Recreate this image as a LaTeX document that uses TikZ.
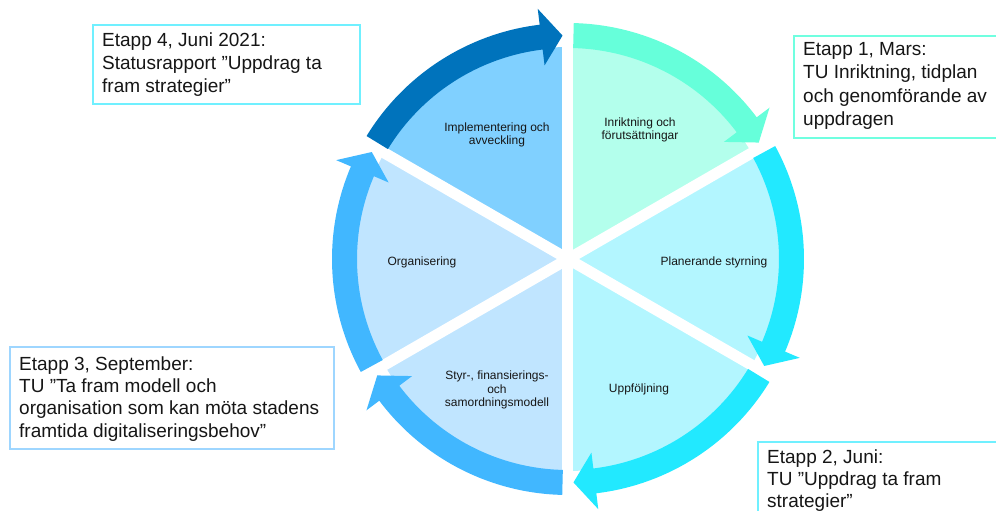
\documentclass[tikz,border=0pt]{standalone}
\usepackage{fontspec}
\setmainfont{Liberation Sans}
\definecolor{mintRing}{HTML}{66FFDA}
\definecolor{mintWedge}{HTML}{B3FFEC}
\definecolor{cyanRing}{HTML}{22E9FF}
\definecolor{cyanWedge}{HTML}{B3F6FF}
\definecolor{blueRing}{HTML}{41B7FF}
\definecolor{blueWedge}{HTML}{C0E5FF}
\definecolor{darkRing}{HTML}{0073BC}
\definecolor{darkWedge}{HTML}{80D0FF}
\definecolor{frameCyan}{HTML}{70F0FF}
\definecolor{frameMint}{HTML}{70FFE0}
\definecolor{frameBlue}{HTML}{9ED6FF}
\definecolor{ink}{HTML}{161616}
% ring segment with arrow head: colour, start angle, head base angle, tip angle
\newcommand\ringarrow[4]{%
  \fill[#1] (#2:211) arc[start angle=#2, end angle=#3, radius=211]
    -- (#3:195) -- (#4:223.5) -- (#3:252) -- (#3:236)
    arc[start angle=#3, end angle=#2, radius=236] -- cycle;}
% pie wedge: colour, start angle, end angle
\newcommand\piewedge[3]{%
  \fill[#1] (0,0) -- (#2:212) arc[start angle=#2, end angle=#3, radius=212] -- cycle;}
\begin{document}
\begin{tikzpicture}[x=1pt,y=1pt,
  stagebox/.style={draw=#1, line width=2pt, fill=white, inner sep=0pt, anchor=north west},
  stagetext/.style={anchor=base west, inner sep=0pt, align=left,
    font=\fontsize{19}{#1}\selectfont, text=ink},
  stagetext/.default=23,
  phase/.style={inner sep=0pt, align=center,
    font=\fontsize{12}{13.3}\selectfont, text=ink}]
\useasboundingbox (-568,-252) rectangle (428,259);
\clip (-568,-252) rectangle (428,259);

% the six phases
\piewedge{mintWedge}{90}{30}
\piewedge{cyanWedge}{30}{-30}
\piewedge{cyanWedge}{-30}{-90}
\piewedge{blueWedge}{-90}{-150}
\piewedge{blueWedge}{210}{150}
\piewedge{darkWedge}{150}{90}
\foreach \a in {90,30,150}
  \draw[white, line width=11pt] (\a:214) -- (\a+180:214);

% clockwise arrows round the rim
\ringarrow{mintRing}{88.6}{36.9}{31.4}
\ringarrow{cyanRing}{28.6}{-23.1}{-28.6}
\ringarrow{cyanRing}{-31.4}{-83.1}{-88.6}
\ringarrow{blueRing}{-91.4}{-143.1}{-148.6}
\ringarrow{blueRing}{-151.4}{-203.1}{-208.6}
\ringarrow{darkRing}{148.6}{96.9}{91.4}

% phase labels
\node[phase] (p1) at (72,129) {Inriktning och\\förutsättningar};
\node[phase] (p2) at (146,-3) {Planerande styrning};
\node[phase] (p3) at (71,-130) {Uppföljning};
\node[phase] (p4) at (-71,-131) {Styr-, finansierings-\\och\\samordningsmodell};
\node[phase] (p5) at (-146,-3) {Organisering};
\node[phase] (p6) at (-71,124) {Implementering och\\avveckling};

% stage boxes (text nodes sit on the baseline of their last line)
\node[stagebox=frameCyan, minimum width=267, minimum height=79] (b4) at (-476,235) {};
\node[stagetext] (t4) at (-466,166) {Etapp 4, Juni 2021:\\Statusrapport ”Uppdrag ta\\fram strategier”};

\node[stagebox=frameMint, minimum width=210, minimum height=102] (b1) at (225,224) {};
\node[stagetext=23.5] (t1) at (235,133) {Etapp 1, Mars:\\TU Inriktning, tidplan\\och genomförande av\\uppdragen};

\node[stagebox=frameBlue, minimum width=324, minimum height=102] (b3) at (-559,-87) {};
\node[stagetext=22.3] (t3) at (-549,-178) {Etapp 3, September:\\TU ”Ta fram modell och\\organisation som kan möta stadens\\framtida digitaliseringsbehov”};

\node[stagebox=frameCyan, minimum width=250, minimum height=90] (b2) at (189,-182) {};
\node[stagetext=22] (t2) at (199,-248) {Etapp 2, Juni:\\TU ”Uppdrag ta fram\\strategier”};
\end{tikzpicture}
\end{document}
